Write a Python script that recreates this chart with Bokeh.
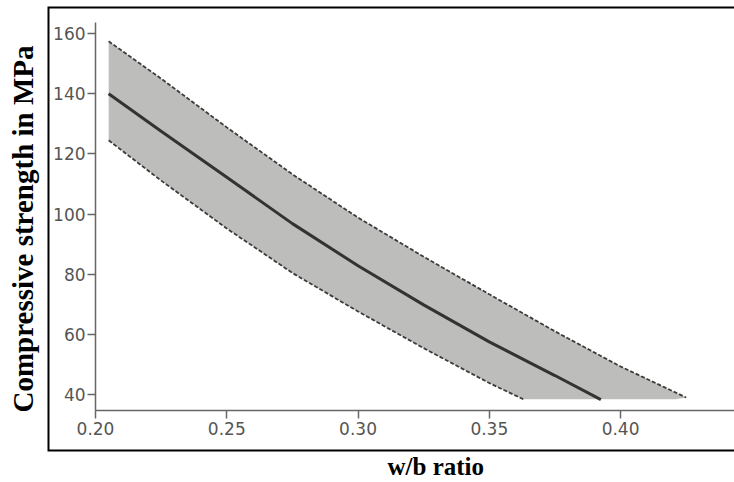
from bokeh.plotting import figure
from bokeh.models import (Range1d, BoxAnnotation, FixedTicker, NumeralTickFormatter,
                          LinearAxis, Title)
from bokeh.embed import file_html
from bokeh.resources import INLINE

# ---- data ----
x_ticks = [0.20, 0.25, 0.30, 0.35, 0.40]
y_ticks = [40, 60, 80, 100, 120, 140, 160]

wb_upper = [0.205, 0.225, 0.25, 0.275, 0.30, 0.325, 0.35, 0.375, 0.40, 0.425]
fc_upper = [157.4, 145.0, 128.8, 113.2, 98.8, 85.8, 73.3, 61.0, 49.3, 39.0]

wb_lower = [0.205, 0.225, 0.25, 0.275, 0.30, 0.325, 0.35, 0.363]
fc_lower = [124.5, 111.1, 95.2, 80.4, 67.6, 55.4, 43.8, 38.4]

wb_floor_end = 0.421
fc_floor = 38.4

wb_mean = [0.205, 0.225, 0.25, 0.275, 0.30, 0.325, 0.35, 0.375, 0.3925]
fc_mean = [140.0, 127.5, 112.2, 96.8, 82.8, 69.8, 57.5, 46.3, 38.3]

# axis extents (the box encloses plot + tick labels)
x_lo, x_hi = 0.18171, 0.4434
y_lo, y_hi = 21.05, 168.98
x_axis_at = 34.68      # where the w/b axis line sits
y_axis_at = 0.20       # where the strength axis line sits
y_axis_top = 163.66

p = figure(width=734, height=482, output_backend="svg", toolbar_location=None,
           x_range=Range1d(x_lo, x_hi), y_range=Range1d(y_lo, y_hi),
           min_border_left=47, min_border_right=0, min_border_top=6,
           min_border_bottom=31)
p.outline_line_color = None
p.grid.visible = False
p.background_fill_color = "white"
p.border_fill_color = "white"

# band
band_x = wb_upper + [wb_floor_end] + wb_lower[::-1]
band_y = fc_upper + [fc_floor] + fc_lower[::-1]
p.patch(band_x, band_y, fill_color="#bdbebc", line_color=None)
p.line(wb_upper, fc_upper, line_color="#3c3c3c", line_width=1.8, line_dash="4 2")
p.line(wb_lower, fc_lower, line_color="#3c3c3c", line_width=1.8, line_dash="4 2")
p.line(wb_mean, fc_mean, line_color="#333333", line_width=3)

# axes drawn inside the boxed area
p.xaxis.fixed_location = x_axis_at
p.yaxis.fixed_location = y_axis_at
p.xaxis.bounds = (y_axis_at, x_hi)
p.yaxis.bounds = (x_axis_at, y_axis_top)
p.xaxis.ticker = FixedTicker(ticks=x_ticks)
p.yaxis.ticker = FixedTicker(ticks=y_ticks)
p.xaxis.formatter = NumeralTickFormatter(format="0.00")
for ax in (p.xaxis, p.yaxis):
    ax.minor_tick_line_color = None
    ax.major_tick_in = 0
    ax.major_tick_out = 8
    ax.axis_line_color = "#666666"
    ax.axis_line_width = 1.5
    ax.major_tick_line_color = "#666666"
    ax.major_tick_line_width = 1.5
    ax.major_label_text_font = "DejaVu Sans"
    ax.major_label_text_font_size = "17px"
    ax.major_label_text_color = "#555555"
p.yaxis.major_label_standoff = 2
p.xaxis.major_label_standoff = 4

# black frame (left, top, bottom edges of the plotting box)
p.add_layout(BoxAnnotation(left=x_lo, right=x_hi + 1.0, top=y_hi, bottom=y_lo,
                           fill_color=None, fill_alpha=0,
                           line_color="black", line_alpha=1.0, line_width=4))

# y title on a bare axis outside the box
ytitle_axis = LinearAxis(ticker=FixedTicker(ticks=[]), axis_line_color=None,
                         major_tick_line_color=None, minor_tick_line_color=None,
                         major_tick_out=0, minor_tick_out=0,
                         axis_label="Compressive strength in MPa",
                         axis_label_standoff=9,
                         axis_label_text_font="Liberation Serif",
                         axis_label_text_font_style="bold",
                         axis_label_text_font_size="29px",
                         axis_label_text_color="black")
p.add_layout(ytitle_axis, "left")

p.add_layout(Title(text="w/b ratio", align="left", offset=340, standoff=2,
                   vertical_align="top", text_font="Liberation Serif",
                   text_font_style="bold", text_font_size="25px",
                   text_color="black"), "below")

open("out.html", "w").write(file_html(p, INLINE))
